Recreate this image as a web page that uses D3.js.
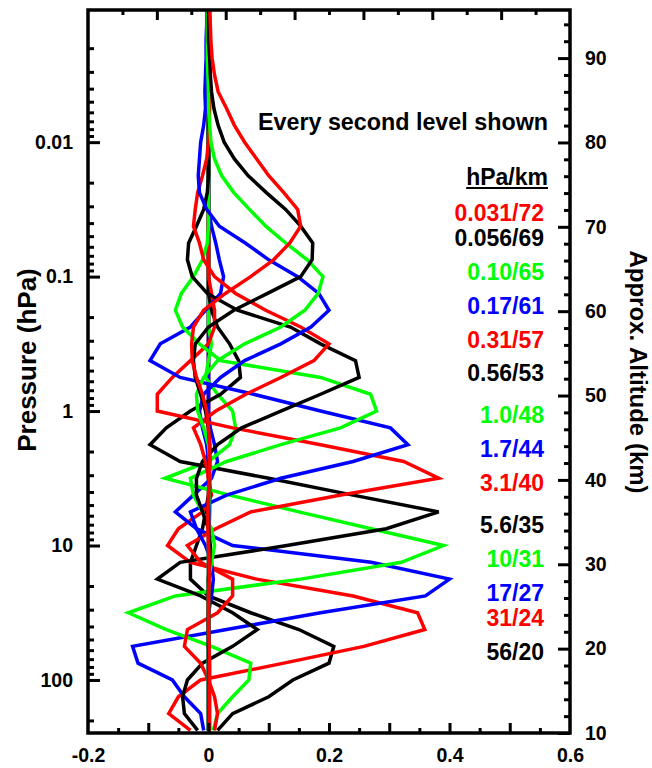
<!DOCTYPE html>
<html>
<head>
<meta charset="utf-8">
<script src="https://cdn.jsdelivr.net/npm/d3@7"></script>
<style>
body { margin: 0; background: #fff; }
text { font-family: "Liberation Sans", Arial, sans-serif; font-weight: bold; }
</style>
</head>
<body>
<div id="chart"></div>
<script>
// retrieval levels: p = 10^(k/8) hPa, k = -24 .. 19
var levelExp = [-24,-23,-22,-21,-20,-19,-18,-17,-16,-15,-14,-13,-12,-11,-10,-9,-8,-7,-6,-5,-4,-3,-2,-1,
                0,1,2,3,4,5,6,7,8,9,10,11,12,13,14,15,16,17,18,19];

var levelNames = ['0.031/72','0.056/69','0.10/65','0.17/61','0.31/57','0.56/53','1.0/48',
                  '1.7/44','3.1/40','5.6/35','10/31','17/27','31/24','56/20'];
var levelAlt = [72, 69, 65, 61, 57, 53, 48, 44, 40, 35, 31, 27, 24, 20];
var levelColors = ['#ff0000','#000000','#00ff00','#0000ff','#ff0000','#000000','#00ff00',
                   '#0000ff','#ff0000','#000000','#00ff00','#0000ff','#ff0000','#000000'];

// averaging kernel rows, one value per level (k = -24 .. 19)
var ak0031 = [0.002,0.003,0.004,0.006,0.010,0.016,0.030,0.043,0.060,
  0.080,0.100,0.125,0.148,0.153,0.135,0.108,0.070,0.028,
  -0.008,-0.025,-0.028,-0.027,-0.020,-0.010,-0.003,0.000,0.002,
  0.002,0.001,0.000,-0.001,-0.001,0.000,0.001,0.001,0.000,
  0.000,0.000,0.001,0.002,0.002,0.002,0.002,0.002];
var ak0056 = [0.000,0.000,0.000,0.002,0.003,0.005,0.009,0.016,0.026,
  0.043,0.066,0.096,0.128,0.153,0.173,0.172,0.153,0.098,
  0.042,0.000,-0.022,-0.025,-0.022,-0.013,-0.005,0.000,0.002,
  0.002,0.001,0.000,-0.001,0.000,0.001,0.001,0.000,0.000,
  0.000,0.000,0.000,0.001,0.001,0.001,0.001,0.001];
var ak010 = [-0.002,-0.002,-0.002,-0.002,-0.001,0.000,0.000,0.002,0.004,
  0.010,0.022,0.042,0.068,0.095,0.128,0.164,0.190,0.182,
  0.160,0.120,0.060,0.015,-0.008,-0.020,-0.018,-0.008,0.000,
  0.002,0.002,0.001,0.000,0.000,0.000,0.000,0.000,0.000,
  0.000,0.000,0.000,0.000,0.000,0.000,0.000,0.000];
var ak017 = [-0.003,-0.003,-0.004,-0.004,-0.005,-0.006,-0.005,-0.008,-0.013,
  -0.015,-0.017,-0.015,-0.003,0.018,0.061,0.100,0.148,0.183,
  0.200,0.170,0.120,0.060,0.020,-0.008,-0.015,-0.010,-0.003,
  0.000,0.002,0.002,0.001,0.000,0.000,0.000,0.000,0.000,
  0.000,0.000,0.000,0.000,0.000,0.000,0.000,0.000];
var ak031 = [0.002,0.002,0.002,0.002,0.002,0.002,0.002,0.001,0.000,
  -0.003,-0.010,-0.018,-0.022,-0.025,-0.015,-0.008,0.010,0.045,
  0.095,0.153,0.200,0.175,0.120,0.062,0.012,-0.025,-0.013,
  -0.005,0.000,0.002,0.002,0.001,0.000,0.000,0.000,0.000,
  0.000,0.000,0.000,0.000,0.000,0.000,0.000,0.000];
var ak056 = [0.000,0.000,0.000,0.000,0.000,0.000,0.000,0.000,0.000,
  0.000,0.000,-0.002,-0.008,-0.020,-0.033,-0.035,-0.027,-0.002,
  0.048,0.136,0.186,0.244,0.250,0.186,0.120,0.055,0.015,
  -0.010,-0.020,-0.020,-0.010,0.000,0.003,0.002,0.000,0.000,
  0.000,0.000,0.000,0.000,0.000,0.000,0.000,0.000];
var ak10 = [0.000,0.000,0.000,0.000,0.000,0.000,0.000,0.000,0.000,
  0.000,0.000,0.000,0.000,0.000,-0.002,-0.010,-0.025,-0.045,
  -0.055,-0.043,-0.015,0.020,0.186,0.269,0.279,0.219,0.120,
  0.030,-0.030,-0.025,-0.010,0.005,0.010,0.005,0.000,0.000,
  0.000,0.000,0.000,0.000,0.000,0.000,0.000,0.000];
var ak17 = [0.000,0.000,0.000,0.000,0.000,0.000,0.000,0.000,0.000,
  0.000,0.000,0.000,0.000,0.005,0.012,0.018,0.025,0.020,
  -0.005,-0.030,-0.080,-0.097,-0.047,0.075,0.186,0.302,0.331,
  0.240,0.120,0.030,-0.030,-0.020,-0.005,0.005,0.008,0.005,
  0.000,0.000,0.000,0.000,0.000,0.000,0.000,0.000];
var ak31 = [0.000,0.000,0.000,0.000,0.000,0.000,0.000,0.000,0.000,
  0.000,0.000,0.000,0.000,0.000,0.000,0.000,0.000,0.005,
  0.010,0.010,0.000,-0.030,-0.060,-0.085,-0.085,0.040,0.186,
  0.324,0.382,0.220,0.070,0.012,-0.035,-0.013,0.040,0.040,
  0.015,-0.035,-0.040,-0.013,0.000,0.010,0.015,0.010];
var ak56 = [0.000,0.000,0.000,0.000,0.000,0.000,0.000,0.000,0.000,
  0.000,0.000,0.000,0.000,0.000,0.000,0.000,0.000,0.000,
  0.005,0.015,0.035,0.050,0.053,0.020,-0.030,-0.070,-0.097,
  -0.047,0.100,0.240,0.382,0.295,0.130,-0.047,-0.085,-0.013,
  0.040,0.081,0.040,-0.010,-0.035,-0.043,-0.040,-0.018];
var ak100 = [0.000,0.000,0.000,0.000,0.000,0.000,0.000,0.000,0.000,
  0.000,0.000,0.000,0.000,0.000,0.000,0.000,0.000,0.000,
  0.000,0.000,0.005,0.000,-0.005,0.015,0.040,0.045,0.035,
  0.000,-0.072,0.035,0.150,0.270,0.390,0.320,0.153,-0.055,
  -0.133,-0.070,0.005,0.070,0.067,0.040,0.015,0.008];
var ak178 = [0.000,0.000,0.000,0.000,0.000,0.000,0.000,0.000,0.000,
  0.000,0.000,0.000,0.000,0.000,0.000,0.000,0.000,0.000,
  0.000,0.000,0.000,0.000,0.000,0.000,0.000,0.003,0.010,
  0.015,0.005,-0.025,-0.055,-0.020,0.040,0.270,0.400,0.360,
  0.186,0.030,-0.126,-0.117,-0.060,-0.040,-0.013,-0.008];
var ak316 = [0.000,0.000,0.000,0.000,0.000,0.000,0.000,0.000,0.000,
  0.000,0.000,0.000,0.000,0.000,0.000,0.000,0.000,0.000,
  0.000,0.000,0.000,0.000,0.000,0.000,0.000,0.000,0.000,
  0.000,0.000,0.005,-0.010,-0.050,-0.068,-0.030,0.080,0.240,
  0.347,0.359,0.258,0.125,-0.013,-0.050,-0.066,-0.030];
var ak562 = [0.000,0.000,0.000,0.000,0.000,0.000,0.000,0.000,0.000,
  0.000,0.000,0.000,0.000,0.000,0.000,0.000,0.000,0.000,
  0.000,0.000,0.000,0.000,0.000,0.000,0.000,0.000,0.000,
  0.000,0.000,0.000,-0.005,-0.010,-0.020,-0.030,-0.030,0.000,
  0.070,0.150,0.208,0.200,0.140,0.100,0.040,0.015];

var kernels = [ak0031, ak0056, ak010, ak017, ak031, ak056, ak10, ak17, ak31, ak56, ak100, ak178, ak316, ak562];

var xTickLabels = [-0.2, 0, 0.2, 0.4, 0.6];
var pTickLabels = [0.01, 0.1, 1, 10, 100];
var altTickLabels = [10, 20, 30, 40, 50, 60, 70, 80, 90];

var W = 652, H = 768;
var plotL = 88, plotR = 570, plotT = 10, plotB = 733;

var svg = d3.select('#chart').append('svg')
    .attr('width', W)
    .attr('height', H);

var x = d3.scaleLinear().domain([-0.2, 0.6]).range([plotL, plotR]);
var xTop = d3.scaleLinear().domain([0, 14]).range([plotL, plotR]);
var y = d3.scaleLog().domain([0.00104, 248]).range([plotT, plotB]);
var alt = d3.scaleLinear().domain([10, 95.7]).range([plotB, plotT]);

svg.append('clipPath').attr('id', 'plotClip')
  .append('rect')
    .attr('x', plotL).attr('y', plotT)
    .attr('width', plotR - plotL).attr('height', plotB - plotT);

// curves, lowest level drawn first so the top level ends up on top
var line = d3.line()
    .x(function(d) { return x(d.v); })
    .y(function(d) { return y(d.p); });

var curves = svg.append('g').attr('clip-path', 'url(#plotClip)');
for (var i = kernels.length - 1; i >= 0; i--) {
    var pts = kernels[i].map(function(v, j) {
        return { v: v, p: Math.pow(10, levelExp[j] / 8) };
    });
    curves.append('path')
        .datum(pts)
        .attr('d', line)
        .style('fill', 'none')
        .style('stroke', levelColors[i])
        .style('stroke-width', 3.5)
        .style('stroke-linejoin', 'miter');
}

function styleAxis(g, size) {
    g.select('.domain').remove();
    g.selectAll('line').style('stroke', '#000').style('stroke-width', 3);
    g.selectAll('text')
        .style('font-size', size + 'px')
        .style('font-weight', 'bold')
        .style('font-family', '"Liberation Sans", Arial, sans-serif')
        .style('fill', '#000');
}

function fmtX(d) {
    return Math.abs(d) < 1e-9 ? '0' : d.toFixed(1);
}

// bottom axis
var xMinor = d3.range(-0.15, 0.6, 0.1);
var xMajor = d3.range(-0.1, 0.55, 0.1);
svg.append('g').attr('transform', 'translate(0,' + plotB + ')')
    .call(d3.axisBottom(x).tickValues(xMinor).tickSize(-5).tickFormat(''))
    .call(styleAxis, 19);
svg.append('g').attr('transform', 'translate(0,' + plotB + ')')
    .call(d3.axisBottom(x).tickValues(xMajor).tickSize(-10).tickFormat(''))
    .call(styleAxis, 19);
svg.append('g').attr('transform', 'translate(0,' + plotB + ')')
    .call(d3.axisBottom(x).tickValues(xTickLabels).tickSize(0).tickPadding(15).tickFormat(fmtX))
    .call(styleAxis, 19.5);

// top axis (no labels)
var topMinor = d3.range(1, 14, 2);
var topMajor = d3.range(2, 14, 2);
svg.append('g').attr('transform', 'translate(0,' + plotT + ')')
    .call(d3.axisTop(xTop).tickValues(topMinor).tickSize(-5).tickFormat(''))
    .call(styleAxis, 19);
svg.append('g').attr('transform', 'translate(0,' + plotT + ')')
    .call(d3.axisTop(xTop).tickValues(topMajor).tickSize(-10).tickFormat(''))
    .call(styleAxis, 19);

// left pressure axis
var pMinor = [];
[0.001, 0.01, 0.1, 1, 10, 100].forEach(function(dec) {
    [2, 3, 4, 5, 6, 7, 8, 9].forEach(function(m) {
        var p = dec * m;
        if (p < 248) pMinor.push(p);
    });
});
svg.append('g').attr('transform', 'translate(' + plotL + ',0)')
    .call(d3.axisLeft(y).tickValues(pMinor).tickSize(-6).tickFormat(''))
    .call(styleAxis, 19);
svg.append('g').attr('transform', 'translate(' + plotL + ',0)')
    .call(d3.axisLeft(y).tickValues(pTickLabels).tickSize(-12).tickPadding(15)
        .tickFormat(function(d) { return String(d); }))
    .call(styleAxis, 19.5);

// right altitude axis
var altMinor = d3.range(12, 96, 2).filter(function(d) { return d % 10 !== 0; });
svg.append('g').attr('transform', 'translate(' + plotR + ',0)')
    .call(d3.axisRight(alt).tickValues(altMinor).tickSize(-6).tickFormat(''))
    .call(styleAxis, 19);
svg.append('g').attr('transform', 'translate(' + plotR + ',0)')
    .call(d3.axisRight(alt).tickValues(altTickLabels).tickSize(-12).tickPadding(15))
    .call(styleAxis, 19.5);

// frame
svg.append('rect')
    .attr('x', plotL).attr('y', plotT)
    .attr('width', plotR - plotL).attr('height', plotB - plotT)
    .style('fill', 'none')
    .style('stroke', '#000')
    .style('stroke-width', 3.5);

// axis titles
svg.append('text')
    .attr('transform', 'translate(36,360) rotate(-90)')
    .attr('text-anchor', 'middle')
    .style('font-size', '26px')
    .text('Pressure (hPa)');
svg.append('text')
    .attr('transform', 'translate(630,372) rotate(90)')
    .attr('text-anchor', 'middle')
    .style('font-size', '24px')
    .text('Approx. Altitude (km)');

// annotations
svg.append('text')
    .attr('x', 548).attr('y', 130)
    .attr('text-anchor', 'end')
    .style('font-size', '23.3px')
    .text('Every second level shown');

var unitText = svg.append('text')
    .attr('x', 548).attr('y', 185)
    .attr('text-anchor', 'end')
    .style('font-size', '23px')
    .text('hPa/km');
var unitLen = unitText.node().getComputedTextLength();
svg.append('line')
    .attr('x1', 548 - unitLen).attr('x2', 548)
    .attr('y1', 188).attr('y2', 188)
    .style('stroke', '#000').style('stroke-width', 2);

// level labels, placed at their altitude
svg.append('g').selectAll('text')
    .data(levelNames)
    .enter()
    .append('text')
    .attr('x', 544)
    .attr('y', function(d, i) { return alt(levelAlt[i]) + 3; })
    .attr('dy', '0.35em')
    .attr('text-anchor', 'end')
    .style('font-size', '23px')
    .style('fill', function(d, i) { return levelColors[i]; })
    .text(function(d) { return d; });
</script>
</body>
</html>
